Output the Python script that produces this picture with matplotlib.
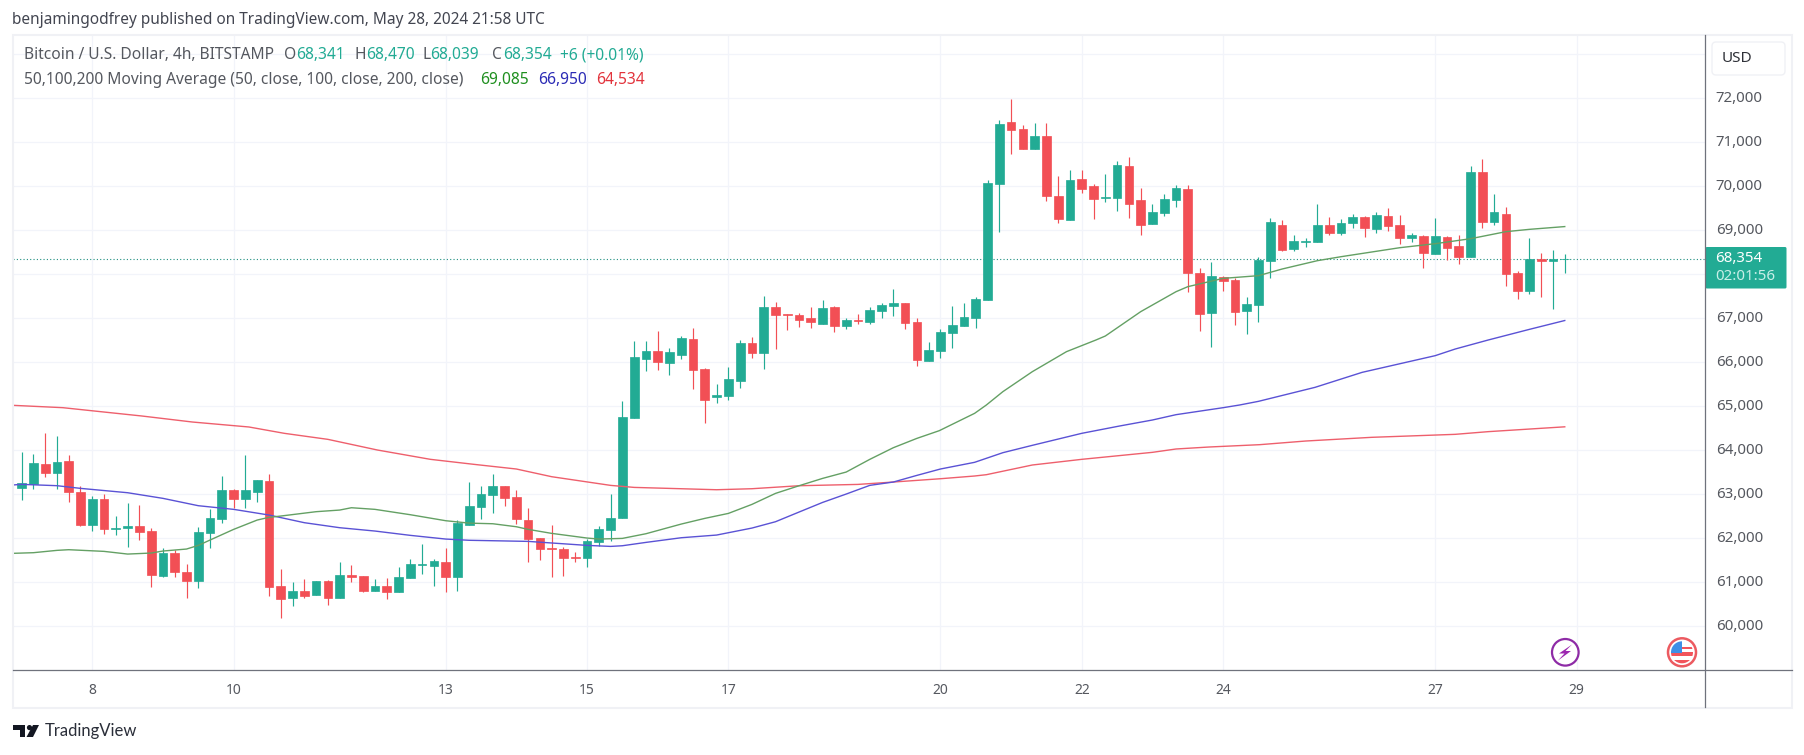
import matplotlib
matplotlib.use('Agg')
import matplotlib.pyplot as plt
from matplotlib.patches import Circle, FancyBboxPatch, Polygon, Rectangle
from matplotlib.transforms import ScaledTranslation
import numpy as np

plt.rcParams['font.family'] = ['Noto Sans', 'DejaVu Sans']

# 4h candles, May 7 12:00 .. May 28 20:00
opens = [63150, 63233, 63680, 63491, 63756, 63044, 62309, 62885, 62211, 62241, 62279, 62165,
         61150, 61665, 61233, 61036, 62127, 62446, 63097, 62900, 63059, 63302, 60915, 60650,
         60794, 60718, 61029, 60650, 61165, 61142, 60809, 60908, 60786, 61097, 61393, 61377,
         61461, 61127, 62309, 62718, 62991, 63188, 62938, 62415, 61998, 61786, 61756, 61581,
         61559, 61922, 62195, 62460, 64741, 66082, 66248, 65991, 66165, 66529, 65847, 65218,
         65241, 65582, 66430, 66218, 67250, 67097, 67066, 66998, 66869, 67256, 66832, 66960,
         66915, 67165, 67279, 67347, 66907, 66037, 66264, 66673, 66825, 67014, 67423, 70060,
         71461, 71295, 70855, 71143, 69772, 69242, 70166, 69999, 69734, 69742, 70461, 69689,
         69151, 69401, 69696, 69939, 68022, 67128, 67939, 67870, 67173, 67310, 68310, 69113,
         68567, 68734, 68742, 69120, 68939, 69166, 69302, 69037, 69325, 69120, 68832, 68870,
         68469, 68847, 68635, 68393, 70317, 69196, 69370, 68022, 67628, 68347, 68309, 68341]
highs = [63953, 63915, 64385, 64324, 63893, 63196, 62961, 63006, 62506, 62794, 62749, 62226,
         61771, 61733, 61415, 62264, 62658, 63415, 63120, 63900, 63326, 63461, 61294, 60999,
         61067, 61029, 61044, 61453, 61392, 61142, 61074, 61089, 61347, 61529, 61862, 61521,
         61779, 62415, 63279, 63188, 63460, 63196, 63097, 62680, 61998, 62301, 61794, 61695,
         61983, 62278, 62998, 65112, 66476, 66476, 66718, 66316, 66597, 66771, 65862, 65506,
         65885, 66506, 66574, 67507, 67378, 67097, 67112, 67265, 67416, 67287, 66998, 67090,
         67250, 67339, 67659, 67355, 67000, 66461, 66749, 67279, 67355, 67492, 70143, 71507,
         71992, 71393, 71446, 71446, 70234, 70370, 70370, 70045, 70280, 70567, 70658, 69954,
         69590, 69825, 70022, 70022, 68136, 68287, 67969, 67908, 67492, 68386, 69272, 69234,
         68893, 68825, 69590, 69310, 69249, 69363, 69325, 69408, 69499, 69347, 68931, 68886,
         69279, 68870, 68893, 70461, 70620, 69825, 69522, 68082, 68817, 68491, 68552, 68470]
lows = [62870, 63120, 63400, 63112, 62832, 62279, 62173, 62105, 62074, 61802, 61961, 60900,
        61126, 61127, 60635, 60877, 61786, 62355, 62696, 62696, 62832, 60695, 60180, 60468,
        60650, 60718, 60483, 60650, 61006, 60786, 60809, 60620, 60786, 61097, 61188, 60915,
        60779, 60809, 62309, 62445, 62566, 62733, 62324, 61453, 61506, 61127, 61142, 61453,
        61354, 61824, 61945, 62460, 64741, 65809, 65824, 65718, 66074, 65385, 64627, 65082,
        65150, 65415, 66104, 65839, 66301, 66733, 66809, 66786, 66869, 66688, 66748, 66862,
        66869, 67013, 67060, 66748, 65922, 66037, 66090, 66332, 66825, 66787, 67423, 68969,
        70734, 70855, 70855, 69673, 69173, 69242, 69840, 69249, 69651, 69446, 69287, 68893,
        69151, 69333, 69530, 67605, 66719, 66355, 67628, 66848, 66643, 66923, 67923, 68537,
        68537, 68628, 68742, 68893, 68901, 69060, 68840, 68946, 68992, 68696, 68734, 68143,
        68469, 68325, 68241, 68393, 69059, 69120, 67741, 67446, 67552, 67476, 67203, 68039]
closes = [63249, 63703, 63491, 63726, 63059, 62309, 62892, 62218, 62233, 62279, 62150, 61173,
          61658, 61241, 61036, 62142, 62461, 63097, 62900, 63097, 63317, 60900, 60627, 60794,
          60695, 61021, 60650, 61158, 61120, 60801, 60908, 60779, 61112, 61408, 61415, 61483,
          61127, 62355, 62726, 62998, 63188, 62915, 62445, 61983, 61756, 61756, 61559, 61551,
          61930, 62210, 62453, 64756, 66112, 66248, 66006, 66226, 66551, 65832, 65150, 65248,
          65612, 66430, 66218, 67250, 67083, 67076, 66960, 66915, 67226, 66832, 66960, 66936,
          67188, 67302, 67347, 66900, 66051, 66272, 66681, 66840, 67022, 67439, 70075, 71416,
          71287, 70855, 71143, 69787, 69264, 70143, 69946, 69719, 69757, 70484, 69605, 69128,
          69408, 69704, 69954, 68037, 67105, 67954, 67848, 67151, 67325, 68325, 69181, 68552,
          68749, 68757, 69113, 68939, 69158, 69302, 69052, 69340, 69098, 68832, 68893, 68491,
          68870, 68605, 68400, 70317, 69196, 69408, 68014, 67628, 68347, 68309, 68340, 68354]

ma50_x = [-0.8, 1, 3, 4, 7, 9, 11, 12, 14, 15, 16, 18, 20, 21, 22, 25, 27, 28, 30, 33, 36, 38, 40, 42, 43, 45, 48, 49,
          51, 53, 56, 58, 60, 62, 64, 66, 68, 70, 72, 74, 76, 77.9, 80.9, 81.9, 83.3, 85.8, 88.7, 91.2, 92, 95, 98, 99,
          102, 105, 107, 110, 112, 117, 120, 123, 126, 128, 131]
ma50 = [61658, 61673, 61726, 61741, 61703, 61642, 61665, 61711, 61756, 61839, 61961, 62203, 62415, 62476, 62506, 62605,
        62642, 62695, 62658, 62536, 62400, 62345, 62331, 62263, 62203, 62112, 62006, 61983, 61998, 62104, 62324, 62453,
        62566, 62771, 63021, 63195, 63362, 63506, 63794, 64059, 64271, 64446, 64840, 65030, 65333, 65787, 66242, 66507,
        66598, 67151, 67605, 67719, 67908, 67969, 68120, 68310, 68400, 68605, 68696, 68809, 68969, 69022, 69085]
ma100_x = [-0.8, 0, 3, 5, 9, 12, 15, 18, 21, 24, 27, 30, 33, 36, 38, 43, 48, 50, 51, 53, 56, 59, 62, 64, 66, 68, 70, 72,
           74, 76, 78, 80.9, 83.3, 85.8, 90, 93.2, 96, 98, 102, 103.4, 105, 109.8, 113.8, 120, 121.7, 124.5, 128, 131]
ma100 = [63211, 63226, 63196, 63135, 63036, 62908, 62741, 62658, 62529, 62355, 62241, 62165, 62067, 61983, 61955, 61930,
         61839, 61816, 61831, 61907, 62013, 62074, 62233, 62377, 62597, 62816, 63006, 63203, 63279, 63430, 63575, 63727,
         63946, 64113, 64386, 64552, 64689, 64810, 64969, 65030, 65113, 65431, 65772, 66151, 66302, 66507, 66749, 66950]
ma200_x = [-0.7, 3.5, 5.9, 10.2, 14.5, 19.3, 22.3, 26, 30.2, 34.7, 38.4, 42, 45, 50, 52, 59, 62, 66, 71, 74, 78, 80.9,
           81.9, 85.8, 90, 96, 98, 100.8, 105.1, 109, 114.6, 121.7, 124.5, 131]
ma200 = [65022, 64969, 64901, 64780, 64643, 64530, 64386, 64249, 64007, 63795, 63681, 63575, 63400, 63203, 63157, 63104,
         63127, 63195, 63225, 63279, 63354, 63416, 63446, 63666, 63795, 63954, 64030, 64075, 64128, 64211, 64295, 64363,
         64424, 64534]

day_ticks = [6, 18, 36, 48, 60, 78, 90, 102, 120, 132]
day_labels = ['8', '10', '13', '15', '17', '20', '22', '24', '27', '29']
price_ticks = [60000, 61000, 62000, 63000, 64000, 65000, 66000, 67000, 69000, 70000, 71000, 72000]
grid_levels = [60000, 61000, 62000, 63000, 64000, 65000, 66000, 67000, 68000, 69000, 70000, 71000, 72000, 73000]
last_price = 68354

W, H = 1804, 755
UP = '#22ab94'
DOWN = '#f24f55'
GRID = '#f2f4fa'
AXIS = '#6f727c'
TXT = '#55585f'

fig = plt.figure(figsize=(W / 100, H / 100), dpi=100, facecolor='white')
# axes box in pixels: 13..1705, 35..670
ax = fig.add_axes([13 / W, 1 - 670 / H, (1705.3 - 13) / W, (670 - 35) / H])
ax.set_xlim(-0.73, 142.93)
ax.set_ylim(59007, 73439)

ax.hlines(grid_levels, -0.73, 142.93, color=GRID, lw=0.9, zorder=0)
ax.vlines(day_ticks, 59007, 73439, color=GRID, lw=0.9, zorder=0)
ax.axhline(last_price, color='#1f8f80', lw=0.8, ls=(0, (1, 2)), zorder=1)

x = np.arange(len(opens))
o = np.array(opens)
c = np.array(closes)
colors = [UP if up else DOWN for up in c >= o]

ax.vlines(x, lows, highs, color=colors, lw=0.85, zorder=2)
ax.bar(x, np.abs(c - o), 0.74, bottom=np.minimum(o, c), color=colors, edgecolor=colors, lw=0.5, zorder=3)

ax.plot(ma200_x, ma200, color='#ee5f6c', lw=1.0, zorder=4)
ax.plot(ma100_x, ma100, color='#5a52d5', lw=1.0, zorder=4)
ax.plot(ma50_x, ma50, color='#64a064', lw=1.0, zorder=4)

for s in ax.spines.values():
    s.set_visible(False)
ax.set_xticks(day_ticks)
ax.set_xticklabels(day_labels, fontsize=10, color=TXT)
ax.yaxis.tick_right()
ax.set_yticks(price_ticks)
ax.set_yticklabels([f'{p:,}' for p in price_ticks], fontsize=10.8, color=TXT)
ax.tick_params(axis='x', length=0, pad=9.5)
ax.tick_params(axis='y', length=0, pad=7.5)
# price labels sit a little above their gridlines
lift = ScaledTranslation(0, 2 / 100, fig.dpi_scale_trans)
for lab in ax.get_yticklabels():
    lab.set_transform(lab.get_transform() + lift)

# everything around the plot, in picture pixels
top = fig.add_axes([0, 0, 1, 1], facecolor='none')
top.set_xlim(0, W)
top.set_ylim(H, 0)
top.axis('off')

top.add_patch(Rectangle((13, 35), 1779, 672.5, fill=False, ec='#f0f1f5', lw=1.5))
top.plot([13, 1792], [670, 670], color=AXIS, lw=0.9)
top.plot([1705.3, 1705.3], [35, 707], color=AXIS, lw=0.9)


def put(px, py, s, color=TXT, size=11.2, **kw):
    top.text(px, py, s, color=color, fontsize=size, va='center', ha='left', **kw)


put(12.5, 19.5, 'benjamingodfrey published on TradingView.com, May 28, 2024 21:58 UTC', color='#434651', size=11.1)
put(24, 55, 'Bitcoin / U.S. Dollar, 4h, BITSTAMP')
for px, s in [(284, 'O'), (354, 'H'), (422, 'L'), (492, 'C')]:
    put(px, 55, s)
for px, s in [(296, '68,341'), (366, '68,470'), (430, '68,039'), (503, '68,354'), (560, '+6 (+0.01%)')]:
    put(px, 55, s, color=UP)
put(24, 79.5, '50,100,200 Moving Average (50, close, 100, close, 200, close)')
put(480, 79.5, '69,085', color='#1f8f1f')
put(538, 79.5, '66,950', color='#2b2bb5')
put(596, 79.5, '64,534', color='#e2333c')

# USD button and last price tag
top.add_patch(FancyBboxPatch((1712, 42), 73, 33, boxstyle='round,pad=0,rounding_size=4', fc='white', ec='#f0f1f5', lw=1))
put(1722, 58.5, 'USD', color='#2f3138', size=11)
top.add_patch(FancyBboxPatch((1705.5, 247), 81, 41.5, boxstyle='round,pad=0,rounding_size=1.5', fc=UP, ec=UP, lw=0))
put(1715.5, 258, '68,354', color='white', size=10.8)
put(1715.5, 277, '02:01:56', color='#c9efe8', size=10.8)

# lightning icon
top.add_patch(Circle((1565.3, 652.3), 13.3, fc='white', ec='#8e2ba6', lw=1.6))
top.add_patch(Polygon([(1572, 644.5), (1559, 653.5), (1564.5, 653.5), (1558, 660.5), (1571, 651), (1565.5, 651)],
                      closed=True, fc='#9c27b0', ec='none'))

# flag icon
top.add_patch(Circle((1682, 652.3), 14, fc='white', ec='#ec5a60', lw=1.8))
clip = Circle((1682, 652.3), 11, transform=top.transData)
for py, ph, col in [(641, 24, 'white'), (652, 4, '#f2545b'), (659.5, 5, '#f2545b')]:
    r = Rectangle((1670, py), 24, ph, fc=col, ec='none')
    top.add_patch(r)
    r.set_clip_path(clip)
r = Rectangle((1670, 641), 12, 12, fc='#3f8fe6', ec='none')
top.add_patch(r)
r.set_clip_path(clip)
r = Rectangle((1682, 646.5), 12, 2.5, fc='#f2545b', ec='none')
top.add_patch(r)
r.set_clip_path(clip)

# TradingView logo
top.add_patch(Polygon([(13, 725), (25, 725), (25, 737), (19.5, 737), (19.5, 730), (13, 730)], closed=True, fc='#131722', ec='none'))
top.add_patch(Circle((29.5, 727.6), 2.6, fc='#131722', ec='none'))
top.add_patch(Polygon([(33, 725), (39, 725), (33, 737), (26.5, 737)], closed=True, fc='#131722', ec='none'))
top.text(45, 731, 'TradingView', color='#2a2e39', fontsize=12, family='Lato', va='center', ha='left')

fig.savefig('out.png', dpi=100, facecolor='white')
